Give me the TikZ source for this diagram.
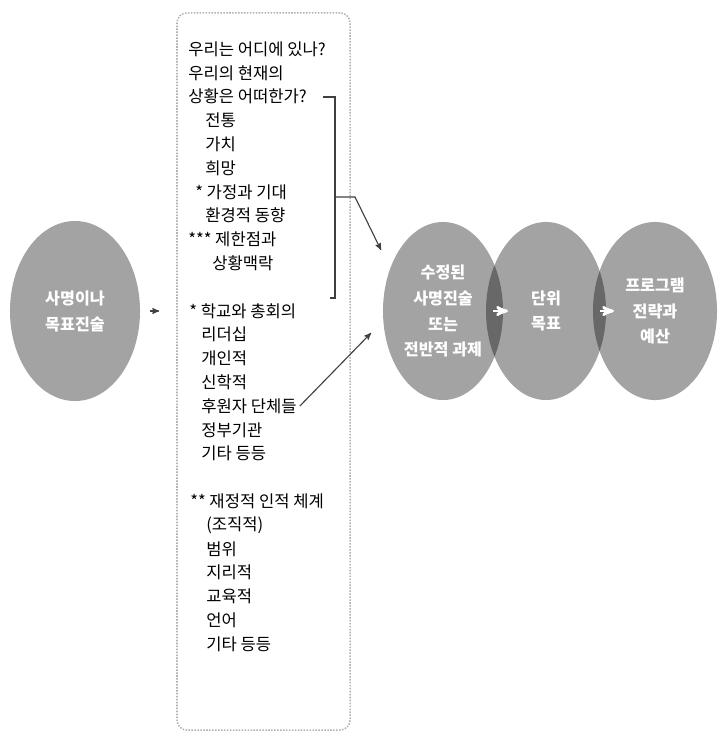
\documentclass[tikz,border=0pt]{standalone}
\usepackage{fontspec}
\setmainfont{Noto Sans CJK KR}
\usetikzlibrary{arrows, positioning, calc, shapes.geometric}
\tikzset{
>=stealth',
frame/.style={%
    rectangle,
    draw=gray!60,
    densely dotted,
    line width=1.1pt,
    rounded corners=2.5mm,
},
item/.style={anchor=west, inner sep=0pt, font=\fontsize{11.8}{14}\selectfont},
blob/.style={%
    ellipse, inner sep=0pt,
    fill=black, fill opacity=0.36, text opacity=1, text=white,
    minimum width=3cm, minimum height=4.45cm,
    align=center, font=\fontsize{11.5}{18.4}\selectfont\bfseries
},
link/.style={->, black!75, line width=0.8pt},
hop/.style={->, white, line width=1.8pt},
}

\begin{document}
\begin{tikzpicture}[x=0.025cm, y=-0.025cm]
	\useasboundingbox (0,0) rectangle (720,742);

	% ellipses
	\node[blob, minimum width=3.25cm, minimum height=4.5cm] (goal) at (75,311) {사명이나\\목표진술};
	\node[blob] (mission) at (443,311) {수정된\\사명진술\\또는\\전반적 과제};
	\node[blob] (unit) at (546,311) {단위\\목표};
	\node[blob, minimum width=3.1cm] (program) at (655,311) {프로그램\\전략과\\예산};

	% list box
	\node[frame, minimum width=4.325cm, minimum height=17.925cm] (box) at (263.5,371.5) {};
	\foreach \k/\x/\t in {0/188/우리는 어디에 있나?, 1/188/우리의 현재의, 2/188/상황은 어떠한가?,
		3/205/전통, 4/205/가치, 5/205/희망, 6/195/* 가정과 기대, 7/205/환경적 동향,
		8/188/*** 제한점과, 9/212/상황맥락,
		11/189/* 학교와 총회의, 12/201/리더십, 13/201/개인적, 14/201/신학적,
		15/201/후원자 단체들, 16/201/정부기관, 17/201/기타 등등,
		19/190/** 재정적 인적 체계, 20/206/(조직적), 21/206/범위, 22/206/지리적,
		23/206/교육적, 24/206/언어, 25/206/기타 등등}
		\node[item] (l\k) at (\x,49+23.8*\k) {\t};

	% bracket
	\coordinate (brtop) at (323,97);
	\coordinate (brbot) at (330,298);
	\coordinate (brmid) at (335,197);
	\coordinate (brtip) at (381,250);
	\coordinate (suptip) at (371,333);
	\draw[black!75, line width=0.8pt] (brtop) -- (brtop -| brmid) -- (brbot -| brmid) -- (brbot);
	\draw[link] (brmid) -- ++(20,0) -- (brtip);
	\draw[link] (l15.east) ++(3,0) -- (suptip);

	% arrows
	\draw[link, shorten <=0.25cm, shorten >=0.425cm] (goal.east) -- (goal.east -| box.west);
	\draw[hop, shorten <=1.25cm, shorten >=0.95cm] (mission.center) -- (unit.center);
	\draw[hop, shorten <=1.35cm, shorten >=1.025cm] (unit.center) -- (program.center);
\end{tikzpicture}
\end{document}
